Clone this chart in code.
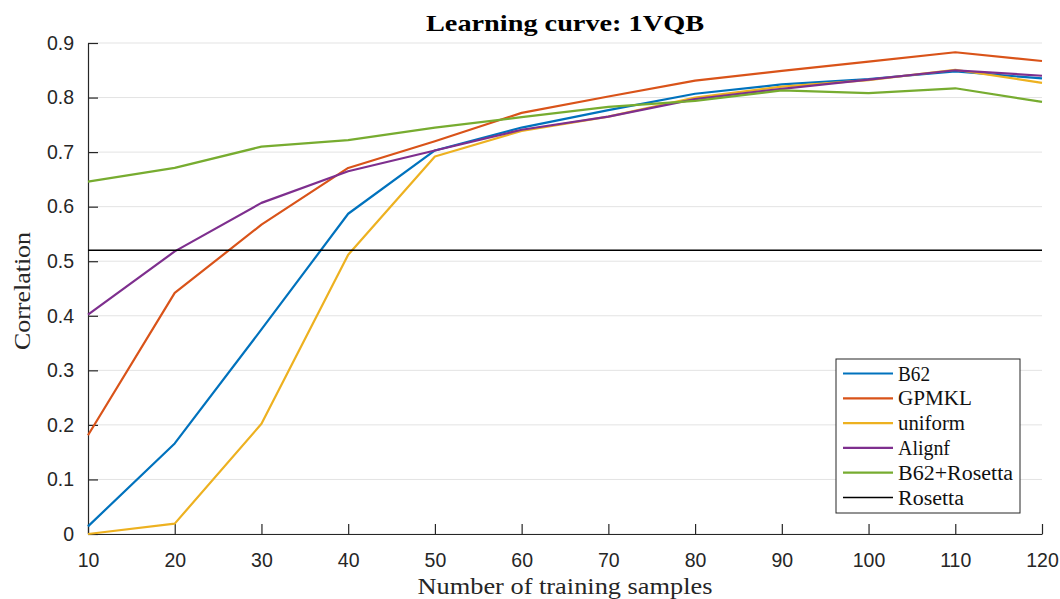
<!DOCTYPE html>
<html>
<head>
<meta charset="utf-8">
<script src="https://cdn.jsdelivr.net/npm/d3@7"></script>
<style>
  body { margin: 0; background: #fff; }
</style>
</head>
<body>
<div id="chart"></div>
<script>
// training set sizes
var samples = [10, 20, 30, 40, 50, 60, 70, 80, 90, 100, 110, 120];

// correlation per method
var b62 = [0.014, 0.166, 0.375, 0.587, 0.703, 0.745, 0.777, 0.807, 0.824, 0.834, 0.848, 0.835];
var gpmkl = [0.181, 0.442, 0.567, 0.671, 0.720, 0.772, 0.802, 0.831, 0.849, 0.866, 0.883, 0.867];
var uniform = [0.0, 0.019, 0.202, 0.512, 0.692, 0.739, 0.765, 0.800, 0.820, 0.832, 0.851, 0.827];
var alignf = [0.402, 0.518, 0.607, 0.665, 0.703, 0.741, 0.765, 0.797, 0.816, 0.833, 0.850, 0.840];
var b62Rosetta = [0.646, 0.671, 0.710, 0.722, 0.745, 0.764, 0.783, 0.794, 0.813, 0.808, 0.817, 0.792];
var rosetta = 0.52;

var seriesNames = ["B62", "GPMKL", "uniform", "Alignf", "B62+Rosetta", "Rosetta"];
var seriesColors = ["#0072BD", "#D95319", "#EDB120", "#7E2F8E", "#77AC30", "#000000"];
var yTicks = [0, 0.1, 0.2, 0.3, 0.4, 0.5, 0.6, 0.7, 0.8, 0.9];

var width = 1060,
  height = 599,
  margin = { top: 43, right: 18, bottom: 65, left: 88 };

var svg = d3
  .select("#chart")
  .append("svg")
  .attr("width", width)
  .attr("height", height);

//Scales
var xScale = d3
  .scaleLinear()
  .domain([10, 120])
  .range([margin.left, width - margin.right]);

var yScale = d3
  .scaleLinear()
  .domain([0, 0.9])
  .range([height - margin.bottom, margin.top]);

//Horizontal grid
svg
  .append("g")
  .selectAll("line")
  .data(yTicks)
  .enter()
  .append("line")
  .attr("x1", xScale(10))
  .attr("x2", xScale(120))
  .attr("y1", d => yScale(d))
  .attr("y2", d => yScale(d))
  .attr("stroke", "#e3e3e3")
  .attr("stroke-width", 1);

//Axes
var xAxis = svg
  .append("g")
  .attr("transform", "translate(0," + yScale(0) + ")")
  .call(
    d3
      .axisBottom(xScale)
      .tickValues(samples)
      .tickFormat(d3.format("d"))
      .tickSizeInner(-10)
      .tickSizeOuter(0)
      .tickPadding(19)
  );

var yAxis = svg
  .append("g")
  .attr("transform", "translate(" + xScale(10) + ",0)")
  .call(
    d3
      .axisLeft(yScale)
      .tickValues(yTicks)
      .tickFormat(d => (d === 0 ? "0" : d3.format(".1f")(d)))
      .tickSizeInner(-10)
      .tickSizeOuter(0)
      .tickPadding(14)
  );

[xAxis, yAxis].forEach(function(ax) {
  ax.select(".domain").attr("stroke", "#262626").attr("stroke-width", 1.2);
  ax.selectAll(".tick line").attr("stroke", "#262626").attr("stroke-width", 1.2);
  ax.selectAll(".tick text")
    .attr("fill", "#262626")
    .style("font-family", "Liberation Sans, Arial, sans-serif")
    .style("font-size", "19.5px");
});

//Lines
var allSeries = [b62, gpmkl, uniform, alignf, b62Rosetta];
var line = d3
  .line()
  .x((d, i) => xScale(samples[i]))
  .y(d => yScale(d));

svg
  .append("g")
  .selectAll("path")
  .data(allSeries)
  .enter()
  .append("path")
  .attr("d", d => line(d))
  .attr("fill", "none")
  .attr("stroke", (d, i) => seriesColors[i])
  .attr("stroke-width", 2.2)
  .attr("stroke-linejoin", "round");

svg
  .append("line")
  .attr("x1", xScale(10))
  .attr("x2", xScale(120))
  .attr("y1", yScale(rosetta))
  .attr("y2", yScale(rosetta))
  .attr("stroke", "#000")
  .attr("stroke-width", 1.6);

//Title and labels (the original uses a wide TeX font, so stretch to its width)
var serif = "Liberation Serif, DejaVu Serif, serif";

svg
  .append("text")
  .attr("x", (xScale(10) + xScale(120)) / 2)
  .attr("y", 31)
  .attr("text-anchor", "middle")
  .attr("textLength", 278)
  .attr("lengthAdjust", "spacingAndGlyphs")
  .style("font-family", serif)
  .style("font-weight", "bold")
  .style("font-size", "24px")
  .text("Learning curve: 1VQB");

svg
  .append("text")
  .attr("x", (xScale(10) + xScale(120)) / 2)
  .attr("y", 594)
  .attr("text-anchor", "middle")
  .attr("textLength", 295)
  .attr("lengthAdjust", "spacingAndGlyphs")
  .attr("fill", "#262626")
  .style("font-family", serif)
  .style("font-size", "23px")
  .text("Number of training samples");

svg
  .append("text")
  .attr("transform", "translate(30,291) rotate(-90)")
  .attr("text-anchor", "middle")
  .attr("textLength", 118)
  .attr("lengthAdjust", "spacingAndGlyphs")
  .attr("fill", "#262626")
  .style("font-family", serif)
  .style("font-size", "23px")
  .text("Correlation");

//Legend
var legendWidths = [32, 74, 67, 52, 115, 66];
var legend = svg.append("g").attr("transform", "translate(836,359)");

legend
  .append("rect")
  .attr("width", 184)
  .attr("height", 154)
  .attr("fill", "#fff")
  .attr("stroke", "#262626")
  .attr("stroke-width", 1);

var rows = legend
  .selectAll(".row")
  .data(seriesNames)
  .enter()
  .append("g")
  .attr("transform", (d, i) => "translate(0," + (14.5 + i * 24.8) + ")");

rows
  .append("line")
  .attr("x1", 7)
  .attr("x2", 57)
  .attr("stroke", (d, i) => seriesColors[i])
  .attr("stroke-width", (d, i) => (i === 5 ? 1.6 : 2.2));

rows
  .append("text")
  .attr("x", 62)
  .attr("dy", "0.35em")
  .attr("textLength", (d, i) => legendWidths[i])
  .attr("lengthAdjust", "spacingAndGlyphs")
  .attr("fill", "#111")
  .style("font-family", serif)
  .style("font-size", "20px")
  .text(d => d);
</script>
</body>
</html>
